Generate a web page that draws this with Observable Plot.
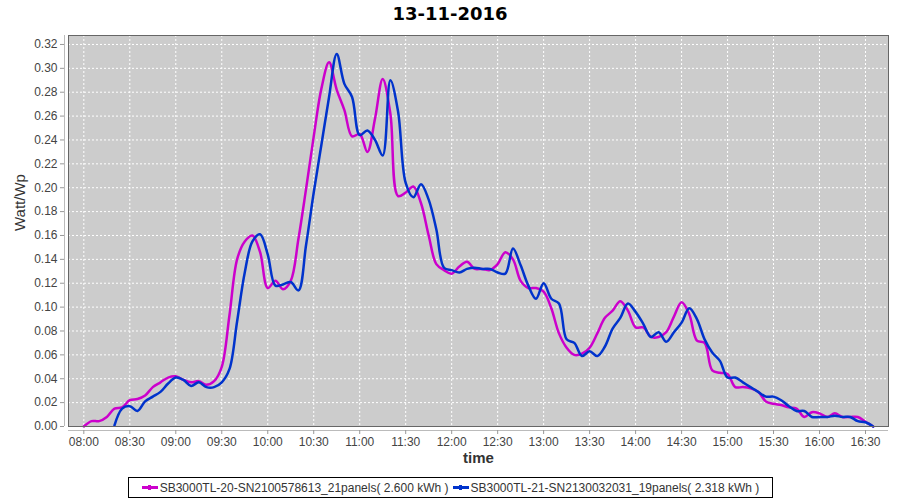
<!DOCTYPE html>
<html>
<head>
<meta charset="utf-8">
<script src="https://cdn.jsdelivr.net/npm/d3@7"></script>
<script src="https://cdn.jsdelivr.net/npm/@observablehq/plot@0.6"></script>
<style>
  html, body { margin: 0; padding: 0; background: #fff; }
  #wrap { position: relative; width: 900px; height: 500px; font-family: "Liberation Sans", Arial, sans-serif; }
  #title { position: absolute; left: 0; top: 3px; width: 900px; text-align: center; font-family: "DejaVu Sans", sans-serif; font-weight: bold; font-size: 18px; color: #000; }
  #legend { position: absolute; left: 128px; top: 477px; width: 643px; height: 19px; border: 1px solid #000; display: flex; align-items: center; justify-content: center; font-size: 12px; color: #333; white-space: nowrap; background: #fff; }
  .item { display: flex; align-items: center; margin: 0 2px; }
  .sw { width: 16px; height: 3px; margin-right: 2px; position: relative; }
  .sw::after { content: ""; position: absolute; left: 6px; top: -1px; width: 3px; height: 5px; background: inherit; }
  svg { position: absolute; left: 0; top: 0; }
</style>
</head>
<body>
<div id="wrap">
  <div id="title">13-11-2016</div>
  <div id="legend"></div>
</div>
<script>
const seriesNames = ["SB3000TL-20-SN2100578613_21panels( 2.600 kWh )", "SB3000TL-21-SN2130032031_19panels( 2.318 kWh )"];
const seriesColors = ["#cc00cc", "#0033cc"];

const times = ["08:00","08:05","08:10","08:15","08:20","08:25","08:30","08:35","08:40","08:45","08:50","08:55",
  "09:00","09:05","09:10","09:15","09:20","09:25","09:30","09:35","09:40","09:45","09:50","09:55",
  "10:00","10:05","10:10","10:15","10:20","10:25","10:30","10:35","10:40","10:45","10:50","10:55",
  "11:00","11:05","11:10","11:15","11:20","11:25","11:30","11:35","11:40","11:45","11:50","11:55",
  "12:00","12:05","12:10","12:15","12:20","12:25","12:30","12:35","12:40","12:45","12:50","12:55",
  "13:00","13:05","13:10","13:15","13:20","13:25","13:30","13:35","13:40","13:45","13:50","13:55",
  "14:00","14:05","14:10","14:15","14:20","14:25","14:30","14:35","14:40","14:45","14:50","14:55",
  "15:00","15:05","15:10","15:15","15:20","15:25","15:30","15:35","15:40","15:45","15:50","15:55",
  "16:00","16:05","16:10","16:15","16:20","16:25","16:30","16:35"];

const magentaValues = [0.000,0.0045,0.0045,0.008,0.015,0.016,0.022,0.023,0.026,0.033,0.037,0.041,
  0.042,0.039,0.037,0.038,0.035,0.038,0.050,0.093,0.140,0.155,0.160,0.146,
  0.116,0.122,0.115,0.122,0.157,0.199,0.243,0.283,0.305,0.282,0.265,0.243,
  0.245,0.230,0.258,0.291,0.262,0.193,0.196,0.201,0.187,0.160,0.136,0.131,
  0.128,0.134,0.138,0.132,0.132,0.131,0.136,0.146,0.140,0.122,0.116,0.116,
  0.113,0.099,0.078,0.066,0.060,0.061,0.066,0.078,0.091,0.097,0.105,0.097,
  0.083,0.083,0.075,0.075,0.079,0.092,0.104,0.094,0.072,0.070,0.047,0.045,
  0.044,0.033,0.033,0.032,0.029,0.021,0.019,0.018,0.016,0.015,0.008,0.012,
  0.011,0.008,0.011,0.008,0.008,0.008,0.004,0.000];

const blueValues = [null,null,null,null,0.001,0.015,0.017,0.013,0.021,0.025,0.029,0.036,
  0.041,0.039,0.034,0.037,0.033,0.033,0.037,0.048,0.088,0.129,0.155,0.161,
  0.144,0.118,0.119,0.121,0.114,0.152,0.196,0.236,0.276,0.312,0.287,0.276,
  0.244,0.248,0.240,0.227,0.290,0.264,0.204,0.192,0.203,0.190,0.165,0.133,
  0.131,0.129,0.132,0.133,0.132,0.132,0.129,0.128,0.149,0.135,0.118,0.107,
  0.120,0.107,0.103,0.073,0.070,0.059,0.063,0.059,0.067,0.082,0.091,0.103,
  0.096,0.086,0.075,0.079,0.071,0.079,0.087,0.099,0.090,0.073,0.062,0.055,
  0.041,0.041,0.037,0.033,0.029,0.025,0.025,0.022,0.017,0.013,0.013,0.008,
  0.008,0.008,0.009,0.008,0.008,0.0045,0.0036,0.000];

const xTickLabels = ["08:00","08:30","09:00","09:30","10:00","10:30","11:00","11:30","12:00","12:30","13:00","13:30","14:00","14:30","15:00","15:30","16:00","16:30"];
const yTickValues = [0,0.02,0.04,0.06,0.08,0.10,0.12,0.14,0.16,0.18,0.20,0.22,0.24,0.26,0.28,0.30,0.32];
const xDomain = ["07:50","16:45"];
const yDomain = [0, 0.3275];

const T = s => { const [h, m] = s.split(":").map(Number); return new Date(Date.UTC(2016, 10, 13, h, m)); };

const rows = [];
times.forEach((t, i) => {
  if (magentaValues[i] != null) rows.push({time: T(t), value: magentaValues[i], series: seriesNames[0]});
});
times.forEach((t, i) => {
  if (blueValues[i] != null) rows.push({time: T(t), value: blueValues[i], series: seriesNames[1]});
});
const xTicks = xTickLabels.map(T);

const chart = Plot.plot({
  width: 900,
  height: 500,
  marginTop: 35,
  marginBottom: 74,
  marginLeft: 68,
  marginRight: 12,
  x: {type: "utc", domain: xDomain.map(T)},
  y: {domain: yDomain},
  color: {domain: seriesNames, range: seriesColors},
  style: {fontFamily: "'Liberation Sans', Arial, sans-serif", fontSize: "12px", color: "#444", background: "transparent", overflow: "visible"},
  marks: [
    Plot.frame({fill: "#cccccc"}),
    Plot.gridX(xTicks, {stroke: "#ffffff", strokeOpacity: 1, strokeDasharray: "2,2"}),
    Plot.gridY(yTickValues, {stroke: "#ffffff", strokeOpacity: 1, strokeDasharray: "2,2"}),
    Plot.line(rows, {x: "time", y: "value", z: "series", stroke: "series", strokeWidth: 2.5, curve: "catmull-rom"}),
    Plot.frame({stroke: "#666666"}),
    Plot.ruleX([T(xDomain[0])], {dx: -4, stroke: "#bbbbbb"}),
    Plot.ruleY([0], {dy: 4, stroke: "#bbbbbb"}),
    Plot.axisY(yTickValues, {tickFormat: d3.format(".2f"), tickSize: 4, tickPadding: 3, dx: -4, label: null, stroke: "#999999", fill: "#444444", fontSize: 12}),
    Plot.axisX(xTicks, {tickFormat: d3.utcFormat("%H:%M"), tickSize: 4, tickPadding: 3, dy: 4, label: null, stroke: "#999999", fill: "#444444", fontSize: 12}),
    Plot.text(["time"], {frameAnchor: "bottom", dy: 36, fontSize: 15, fill: "#333333", fontWeight: "bold"}),
    Plot.text(["Watt/Wp"], {frameAnchor: "left", dx: -48, rotate: -90, fontSize: 15, fill: "#333333"})
  ]
});

const wrap = document.getElementById("wrap");
wrap.insertBefore(chart, wrap.firstChild);

const legend = document.getElementById("legend");
seriesNames.forEach((n, i) => {
  const item = document.createElement("div");
  item.className = "item";
  const sw = document.createElement("span");
  sw.className = "sw";
  sw.style.background = seriesColors[i];
  const tx = document.createElement("span");
  tx.textContent = n;
  item.appendChild(sw);
  item.appendChild(tx);
  legend.appendChild(item);
});
</script>
</body>
</html>
